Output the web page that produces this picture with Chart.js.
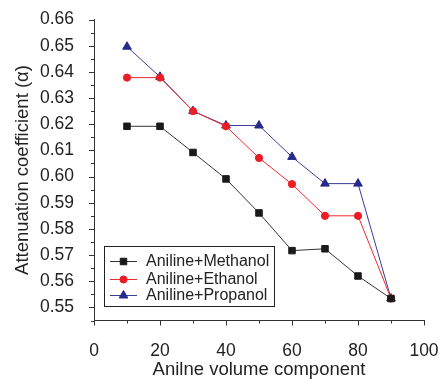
<!DOCTYPE html>
<html>
<head>
<meta charset="utf-8">
<script src="https://cdn.jsdelivr.net/npm/chart.js@4"></script>
<style>
  body { margin: 0; background: #fff; }
  #wrap { width: 443px; height: 379px; }
</style>
</head>
<body>
<div id="wrap"><canvas id="chart" width="443" height="379"></canvas></div>
<script>
// data
const volume = [10, 20, 30, 40, 50, 60, 70, 80, 90];
const methanol = [0.6192, 0.6192, 0.6092, 0.5991, 0.5861, 0.5717, 0.5724, 0.5620, 0.5534];
const ethanol = [0.6378, 0.6378, 0.6250, 0.6192, 0.6071, 0.5971, 0.5850, 0.5850, 0.5534];
const propanol = [0.6496, 0.6381, 0.6250, 0.6195, 0.6195, 0.6075, 0.5973, 0.5973, 0.5534];
const xTicks = [0, 20, 40, 60, 80, 100];
const yTicks = [0.55, 0.56, 0.57, 0.58, 0.59, 0.60, 0.61, 0.62, 0.63, 0.64, 0.65, 0.66];

const pts = (ys) => volume.map((x, i) => ({ x: x, y: ys[i] }));
const FONT = "'Liberation Sans', Arial, sans-serif";

// tick marks pointing outwards, minor ones in between
const tickMarks = {
  id: "tickMarks",
  afterDraw(chart) {
    const ctx = chart.ctx;
    const xs = chart.scales.x;
    const ys = chart.scales.y;
    ctx.save();
    ctx.strokeStyle = "#333";
    ctx.lineWidth = 1;
    ctx.beginPath();
    for (let v = 0; v <= 100; v += 10) {
      const px = Math.round(xs.getPixelForValue(v)) + 0.5;
      const len = v % 20 === 0 ? 5 : 3;
      ctx.moveTo(px, xs.top);
      ctx.lineTo(px, xs.top + len);
    }
    for (let k = 0; k <= 23; k++) {
      const v = 0.545 + k * 0.005;
      const py = Math.round(ys.getPixelForValue(v)) + 0.5;
      const len = k % 2 === 1 ? 5 : 3;
      ctx.moveTo(ys.right, py);
      ctx.lineTo(ys.right - len, py);
    }
    ctx.stroke();
    ctx.restore();
  },
};

// legend inside the plot, line + marker like the original
const boxLegend = {
  id: "boxLegend",
  afterDraw(chart) {
    const ctx = chart.ctx;
    const rows = [261, 279, 295];
    ctx.save();
    ctx.strokeStyle = "#222";
    ctx.lineWidth = 1;
    ctx.strokeRect(104.5, 246.5, 170, 60);
    ctx.font = "16px " + FONT;
    ctx.textBaseline = "middle";
    chart.data.datasets.forEach((ds, i) => {
      const y = rows[i] + 0.5;
      ctx.strokeStyle = ds.borderColor;
      ctx.beginPath();
      ctx.moveTo(110, y);
      ctx.lineTo(137, y);
      ctx.stroke();
      ctx.fillStyle = ds.pointBackgroundColor;
      ctx.strokeStyle = ds.pointBorderColor;
      Chart.helpers.drawPoint(ctx, {
        pointStyle: ds.pointStyle,
        radius: ds.pointRadius,
        borderWidth: 1,
      }, 123.5, y);
      ctx.fillStyle = "#222";
      ctx.fillText(ds.label, 146, y);
    });
    ctx.restore();
  },
};

const ctx = document.getElementById("chart");

new Chart(ctx, {
  type: "scatter",
  data: {
    datasets: [
      {
        label: "Aniline+Methanol",
        data: pts(methanol),
        showLine: true,
        borderColor: "#333333",
        borderWidth: 1,
        pointStyle: "rect",
        pointRadius: 4.6,
        pointBackgroundColor: "#1a1a1a",
        pointBorderColor: "#1a1a1a",
        pointBorderWidth: 1,
      },
      {
        label: "Aniline+Ethanol",
        data: pts(ethanol),
        showLine: true,
        borderColor: "#ee2a2e",
        borderWidth: 1,
        pointStyle: "circle",
        pointRadius: 3.6,
        pointBackgroundColor: "#ec1c24",
        pointBorderColor: "#ec1c24",
        pointBorderWidth: 1,
      },
      {
        label: "Aniline+Propanol",
        data: pts(propanol),
        showLine: true,
        borderColor: "#3a3d99",
        borderWidth: 1,
        pointStyle: "triangle",
        pointRadius: 5,
        pointBackgroundColor: "#262a8c",
        pointBorderColor: "#262a8c",
        pointBorderWidth: 1,
      },
    ],
  },
  options: {
    responsive: false,
    animation: false,
    layout: { padding: { left: 0, right: 19, top: 19.5, bottom: 0 } },
    plugins: {
      legend: { display: false },
      tooltip: { enabled: false },
    },
    scales: {
      x: {
        type: "linear",
        min: 0,
        max: 100,
        afterBuildTicks: (s) => { s.ticks = xTicks.map((v) => ({ value: v })); },
        grid: { display: false },
        border: { display: true, color: "#333", width: 1 },
        ticks: {
          color: "#222",
          padding: 12,
          maxRotation: 0,
          font: { family: FONT, size: 17.5 },
        },
        title: {
          display: true,
          text: "Anilne volume component",
          color: "#222",
          padding: { top: 0, bottom: 0 },
          font: { family: FONT, size: 18.5, lineHeight: 1 },
        },
        afterFit: (s) => {
          s.height = 58.5;
          s.paddingLeft = 0;
          s.paddingRight = 0;
        },
      },
      y: {
        type: "linear",
        min: 0.545,
        max: 0.66,
        afterBuildTicks: (s) => { s.ticks = yTicks.map((v) => ({ value: v })); },
        grid: { display: false },
        border: { display: true, color: "#333", width: 1 },
        ticks: {
          color: "#222",
          padding: 12,
          callback: (v) => v.toFixed(2),
          font: { family: FONT, size: 17.5 },
        },
        title: {
          display: true,
          text: "Attenuation coefficient (\u03b1)",
          color: "#222",
          padding: { top: 12, bottom: 0 },
          font: { family: FONT, size: 18.5 },
        },
        afterFit: (s) => {
          s.width = 94;
          s.paddingTop = 0;
          s.paddingBottom = 0;
        },
      },
    },
  },
  plugins: [tickMarks, boxLegend],
});
</script>
</body>
</html>
